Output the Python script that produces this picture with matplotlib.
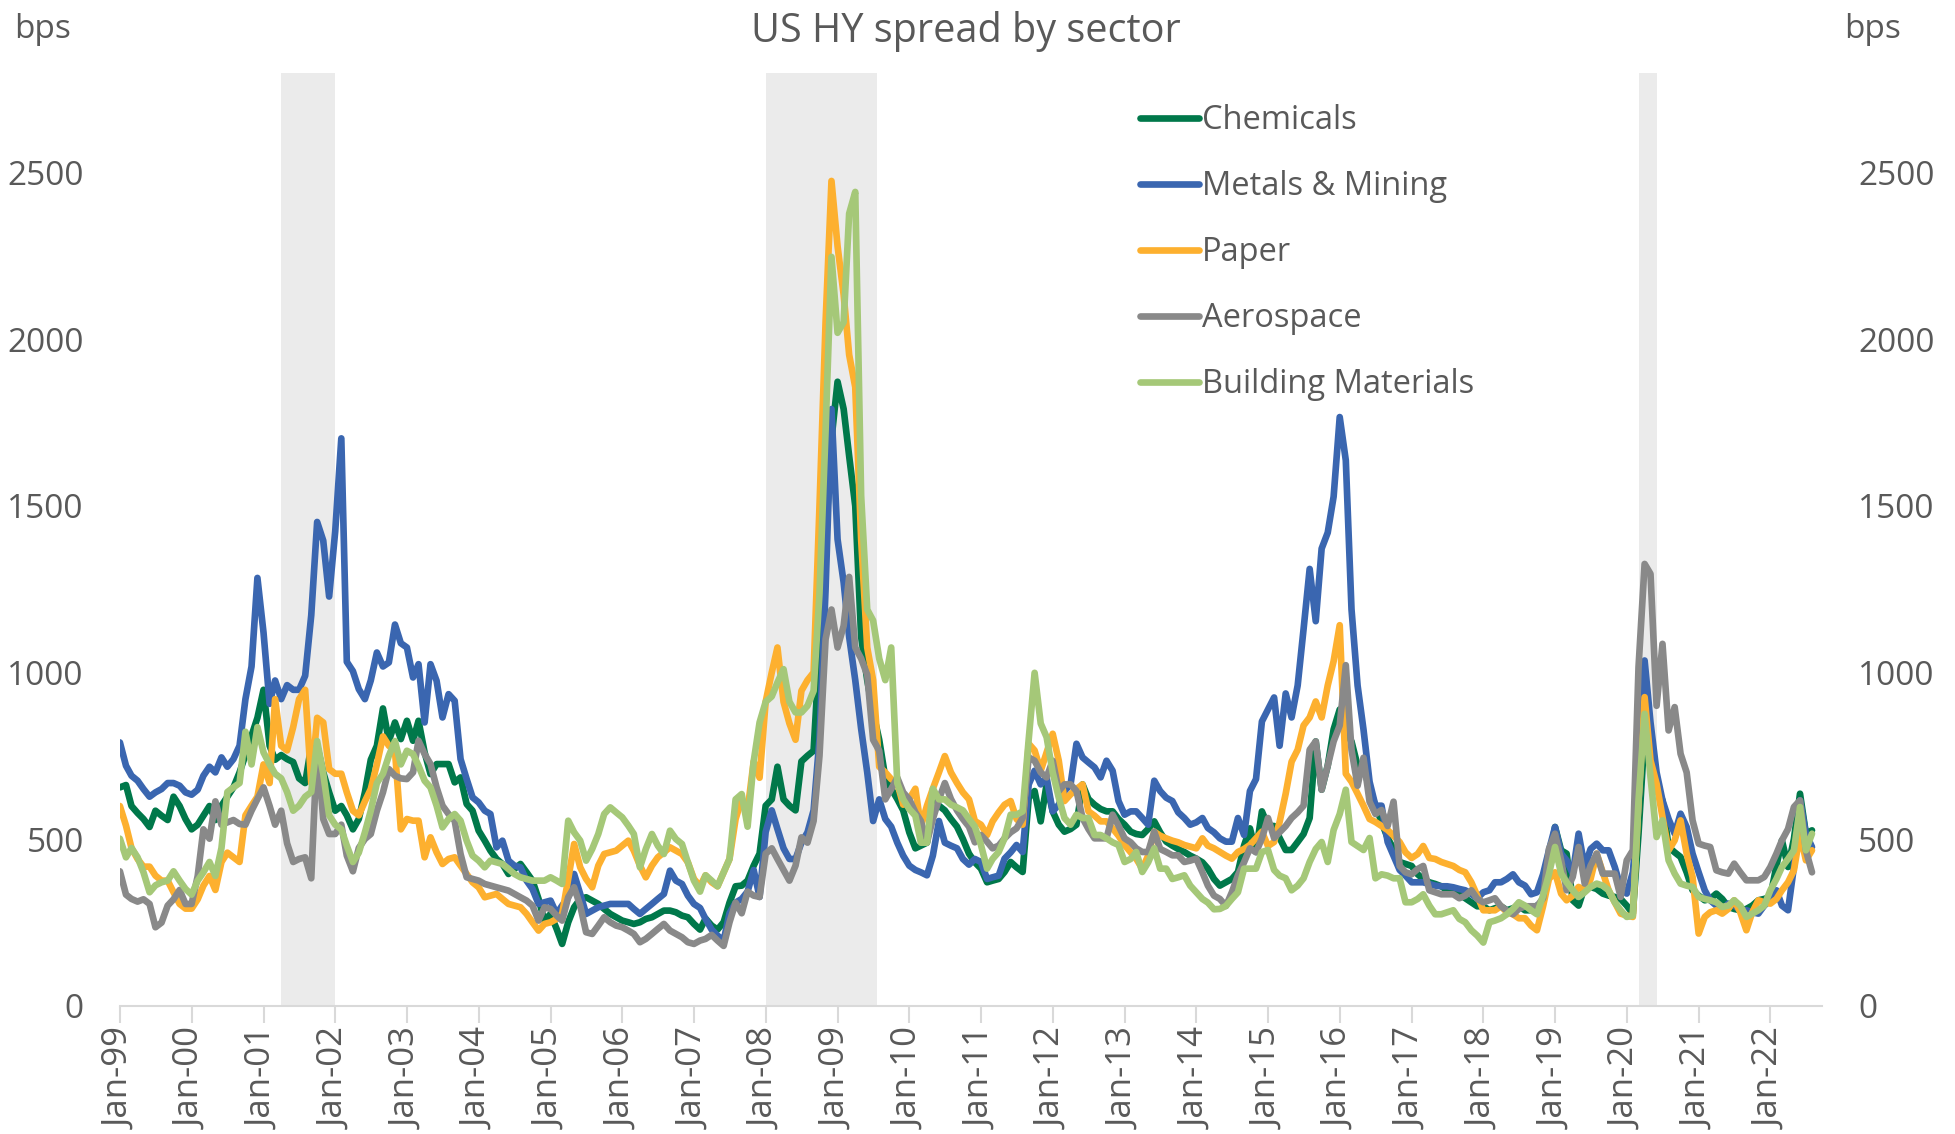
import matplotlib
matplotlib.use('Agg')
import matplotlib.pyplot as plt
import matplotlib.dates as mdates
import pandas as pd

plt.rcParams['font.family'] = ['Open Sans', 'DejaVu Sans']

# monthly values (bps), Jan 1999 .. Aug 2022
chemicals = [
    655, 662, 599, 578, 560, 536, 585, 570, 557, 627, 599, 560,     # 1999
    529, 543, 570, 599, 557, 600, 627, 655, 700, 752, 810, 864,     # 2000
    948, 780, 738, 752, 740, 731, 682, 668, 780, 780, 700, 640,     # 2001
    585, 599, 571, 529, 560, 640, 738, 780, 892, 794, 850, 800,     # 2002
    855, 795, 855, 760, 695, 725, 725, 725, 670, 685, 605, 585,     # 2003
    525, 495, 465, 440, 425, 395, 410, 425, 400, 375, 320, 255,     # 2004
    275, 230, 185, 250, 295, 320, 325, 315, 305, 290, 275, 265,     # 2005
    255, 250, 245, 250, 260, 265, 275, 285, 285, 280, 270, 265,     # 2006
    245, 228, 261, 240, 228, 250, 309, 358, 360, 375, 420, 456,     # 2007
    600, 619, 717, 619, 600, 586, 733, 750, 765, 1075, 1400, 1700,  # 2008
    1873, 1791, 1650, 1500, 1107, 977, 880, 798, 684, 651, 620, 586,  # 2009
    520, 472, 480, 489, 619, 600, 586, 560, 537, 500, 456, 430,     # 2010
    411, 370, 375, 380, 401, 431, 415, 401, 624, 644, 553, 664,     # 2011
    583, 543, 522, 530, 543, 664, 620, 603, 590, 583, 583, 560,     # 2012
    543, 522, 515, 512, 530, 553, 520, 492, 480, 470, 461, 450,     # 2013
    441, 430, 411, 380, 360, 370, 380, 401, 480, 532, 461, 583,     # 2014
    539, 539, 503, 467, 467, 491, 515, 563, 793, 648, 720, 829,     # 2015
    889, 817, 793, 720, 720, 648, 600, 551, 503, 470, 431, 425,     # 2016
    419, 394, 380, 370, 365, 358, 346, 340, 334, 322, 310, 298,     # 2017
    298, 286, 292, 298, 286, 292, 298, 286, 286, 300, 310, 431,     # 2018
    536, 466, 456, 316, 300, 356, 356, 350, 336, 330, 326, 320,     # 2019
    300, 276, 516, 816, 716, 650, 616, 476, 460, 446, 400, 346,     # 2020
    330, 316, 320, 336, 320, 296, 290, 286, 290, 300, 316, 320,     # 2021
    326, 420, 496, 416, 500, 636, 516, 526,                         # 2022
]
metals = [
    790, 720, 690, 675, 650, 627, 640, 650, 668, 668, 660, 640,
    633, 648, 690, 717, 700, 745, 717, 740, 780, 920, 1018, 1284,
    1120, 906, 976, 920, 962, 948, 948, 990, 1172, 1452, 1396, 1228,
    1424, 1703, 1032, 1004, 950, 920, 976, 1060, 1018, 1030, 1144, 1088,
    1075, 985, 1025, 850, 1025, 975, 865, 935, 915, 740, 680, 625,
    610, 585, 575, 475, 495, 435, 420, 415, 375, 350, 305, 310,
    315, 275, 300, 325, 395, 335, 275, 285, 295, 300, 305, 305,
    305, 305, 290, 275, 290, 305, 320, 335, 405, 375, 365, 330,
    305, 293, 260, 228, 210, 195, 277, 309, 320, 342, 407, 326,
    521, 586, 530, 472, 440, 440, 489, 520, 586, 800, 1250, 1791,
    1400, 1270, 1107, 977, 831, 700, 554, 619, 560, 537, 489, 450,
    420, 407, 400, 391, 450, 554, 489, 480, 472, 440, 423, 440,
    431, 380, 385, 390, 441, 460, 482, 461, 664, 705, 664, 685,
    583, 603, 644, 664, 786, 745, 730, 715, 685, 735, 705, 614,
    573, 583, 583, 563, 543, 675, 644, 624, 614, 580, 563, 543,
    550, 563, 533, 520, 502, 492, 492, 563, 512, 644, 680, 853,
    889, 925, 780, 937, 865, 961, 1130, 1311, 1154, 1372, 1420, 1528,
    1767, 1637, 1190, 961, 829, 672, 600, 600, 491, 450, 407, 390,
    370, 370, 370, 365, 360, 358, 358, 355, 350, 346, 335, 322,
    340, 346, 370, 370, 380, 394, 370, 360, 334, 340, 394, 466,
    536, 456, 436, 396, 516, 416, 470, 486, 466, 466, 416, 356,
    336, 400, 600, 1036, 850, 700, 616, 560, 516, 576, 536, 456,
    400, 346, 316, 300, 286, 306, 300, 286, 286, 280, 276, 300,
    316, 346, 300, 286, 416, 616, 516, 476,
]
paper = [
    599, 540, 473, 440, 417, 417, 390, 375, 375, 340, 305, 291,
    291, 319, 360, 389, 347, 431, 459, 445, 431, 571, 600, 627,
    724, 668, 920, 780, 766, 836, 920, 948, 668, 864, 850, 710,
    696, 696, 640, 585, 571, 613, 650, 724, 808, 780, 766, 529,
    560, 555, 555, 445, 505, 460, 425, 440, 445, 420, 395, 370,
    355, 325, 330, 335, 320, 305, 300, 295, 275, 250, 225, 245,
    250, 260, 275, 380, 485, 415, 380, 355, 420, 455, 460, 465,
    480, 495, 465, 420, 385, 420, 445, 460, 475, 465, 455, 430,
    380, 358, 391, 370, 358, 400, 440, 560, 619, 586, 733, 684,
    912, 1000, 1075, 912, 847, 798, 945, 977, 1000, 1500, 2052, 2476,
    2280, 2134, 1954, 1857, 1400, 1075, 977, 717, 700, 680, 668, 603,
    620, 651, 537, 600, 651, 700, 749, 700, 668, 640, 619, 554,
    543, 512, 553, 580, 603, 614, 560, 543, 786, 766, 705, 760,
    816, 735, 614, 634, 650, 664, 583, 570, 553, 553, 532, 510,
    482, 460, 441, 411, 450, 522, 510, 502, 495, 490, 482, 477,
    472, 502, 480, 472, 461, 450, 441, 461, 470, 482, 502, 522,
    479, 491, 551, 636, 732, 768, 841, 865, 913, 865, 961, 1034,
    1142, 696, 672, 636, 600, 560, 551, 539, 527, 510, 491, 460,
    443, 455, 479, 443, 440, 431, 425, 419, 407, 400, 370, 330,
    286, 286, 286, 298, 280, 274, 262, 262, 240, 226, 298, 380,
    400, 336, 316, 330, 356, 346, 380, 456, 400, 346, 310, 276,
    270, 266, 616, 926, 736, 666, 566, 466, 496, 556, 456, 386,
    216, 266, 280, 286, 276, 290, 316, 280, 226, 280, 316, 310,
    306, 320, 346, 370, 406, 516, 436, 466,
]
aerospace = [
    403, 333, 320, 312, 319, 305, 235, 249, 300, 319, 347, 305,
    305, 389, 529, 501, 613, 543, 550, 557, 545, 543, 585, 620,
    655, 599, 543, 585, 487, 431, 440, 445, 382, 780, 560, 515,
    515, 543, 450, 403, 473, 500, 515, 585, 640, 710, 690, 682,
    680, 700, 795, 755, 725, 655, 600, 575, 555, 455, 385, 380,
    375, 365, 360, 355, 350, 345, 335, 325, 315, 300, 255, 295,
    290, 270, 255, 325, 355, 300, 220, 215, 240, 265, 250, 240,
    235, 225, 215, 190, 200, 215, 230, 245, 225, 215, 205, 190,
    185, 195, 200, 212, 195, 179, 250, 309, 277, 342, 330, 326,
    456, 472, 440, 407, 375, 420, 505, 489, 554, 750, 1100, 1189,
    1075, 1140, 1287, 1075, 1042, 993, 798, 765, 619, 650, 684, 640,
    619, 580, 554, 489, 560, 619, 668, 620, 586, 560, 537, 490,
    512, 492, 472, 480, 502, 520, 532, 563, 745, 735, 700, 685,
    735, 644, 664, 664, 644, 563, 530, 502, 502, 502, 573, 540,
    502, 490, 472, 461, 461, 522, 470, 461, 451, 451, 431, 435,
    441, 400, 360, 330, 320, 299, 340, 391, 430, 472, 460, 502,
    563, 503, 520, 539, 563, 580, 600, 768, 793, 648, 720, 793,
    841, 1022, 768, 660, 744, 612, 575, 587, 539, 612, 419, 400,
    394, 410, 419, 346, 340, 334, 334, 334, 322, 330, 346, 320,
    310, 316, 322, 298, 285, 274, 290, 298, 298, 298, 322, 470,
    516, 436, 346, 386, 476, 366, 420, 456, 396, 396, 396, 326,
    436, 466, 1016, 1326, 1296, 900, 1086, 826, 896, 756, 700, 556,
    486, 480, 476, 406, 400, 396, 426, 400, 376, 376, 376, 386,
    416, 456, 496, 530, 596, 616, 466, 400,
]
building = [
    501, 445, 473, 445, 400, 340, 361, 370, 375, 403, 375, 350,
    333, 375, 400, 431, 389, 473, 641, 655, 668, 822, 724, 836,
    760, 724, 696, 682, 641, 585, 600, 627, 641, 794, 696, 571,
    543, 529, 480, 431, 459, 520, 585, 668, 696, 750, 794, 724,
    765, 755, 720, 675, 655, 600, 535, 560, 575, 555, 495, 450,
    435, 415, 435, 430, 425, 410, 395, 385, 380, 375, 375, 375,
    385, 375, 365, 555, 520, 495, 435, 470, 515, 575, 595, 580,
    565, 540, 515, 415, 470, 515, 480, 455, 525, 500, 485, 430,
    375, 342, 391, 375, 358, 400, 440, 619, 635, 537, 733, 850,
    912, 928, 970, 1010, 912, 880, 880, 900, 945, 1238, 1726, 2248,
    2020, 2052, 2378, 2443, 1531, 1189, 1156, 1042, 977, 1075, 668, 619,
    590, 570, 489, 489, 651, 619, 619, 603, 595, 586, 560, 537,
    482, 411, 440, 461, 502, 573, 573, 583, 800, 999, 847, 806,
    700, 624, 563, 543, 573, 563, 563, 512, 512, 502, 490, 482,
    431, 440, 461, 401, 430, 472, 411, 411, 380, 385, 391, 360,
    340, 320, 309, 289, 290, 299, 320, 340, 411, 411, 411, 461,
    467, 407, 390, 382, 346, 360, 382, 431, 470, 491, 431, 527,
    575, 648, 491, 479, 467, 503, 382, 394, 390, 382, 382, 310,
    310, 320, 334, 300, 274, 274, 280, 286, 260, 250, 226, 210,
    189, 250, 255, 262, 274, 290, 310, 300, 286, 274, 330, 394,
    476, 396, 370, 346, 326, 340, 356, 366, 360, 346, 310, 286,
    266, 270, 616, 876, 686, 506, 556, 436, 396, 366, 360, 356,
    326, 320, 316, 310, 296, 300, 316, 300, 266, 276, 286, 300,
    346, 380, 416, 440, 466, 596, 466, 516,
]

series_names = ['Chemicals', 'Metals & Mining', 'Paper', 'Aerospace', 'Building Materials']
series_colors = ['#00784a', '#3a66b0', '#fdb02f', '#898989', '#a5c878']

recession_start = ['2001-04-01', '2008-01-01', '2020-03-01']
recession_end = ['2002-01-01', '2009-07-20', '2020-06-01']

dates = pd.date_range('1999-01-01', periods=len(chemicals), freq='MS')

text_col = '#595959'
fig = plt.figure(figsize=(19.56, 11.34), dpi=100)
ax = fig.add_axes([0.0613, 0.1133, 0.8701, 0.8223])

for s, e in zip(recession_start, recession_end):
    ax.axvspan(pd.Timestamp(s), pd.Timestamp(e), color='#ebebeb', lw=0, zorder=0)

for vals, name, col in zip([chemicals, metals, paper, aerospace, building],
                           series_names, series_colors):
    ax.plot(dates, vals, color=col, lw=4.8, label=name,
            solid_capstyle='round', solid_joinstyle='round')

ax.set_xlim(pd.Timestamp('1999-01-01'), pd.Timestamp('2022-09-20'))
ax.set_ylim(0, 2800)
ax.set_yticks(range(0, 2501, 500))
ax.xaxis.set_major_locator(mdates.YearLocator(1, month=1, day=1))
ax.xaxis.set_major_formatter(mdates.DateFormatter('%b-%y'))

for sp in ['top', 'left', 'right']:
    ax.spines[sp].set_visible(False)
ax.spines['bottom'].set_color('#d9d9d9')
ax.spines['bottom'].set_linewidth(1.5)
ax.tick_params(axis='x', colors='#d9d9d9', length=12, width=1.5, labelcolor=text_col,
               labelsize=25, labelrotation=90, pad=4)
ax.tick_params(axis='y', length=0, labelcolor=text_col, labelsize=24, pad=26)

ax2 = ax.twinx()
ax2.set_ylim(ax.get_ylim())
ax2.set_yticks(range(0, 2501, 500))
for sp in ['top', 'left', 'right', 'bottom']:
    ax2.spines[sp].set_visible(False)
ax2.tick_params(axis='y', length=0, labelcolor=text_col, labelsize=24, pad=26)

fig.text(0.494, 0.972, 'US HY spread by sector', ha='center', va='center',
         fontsize=28.5, color=text_col)
fig.text(0.007, 0.974, 'bps', ha='left', va='center', fontsize=24, color=text_col)
fig.text(0.943, 0.974, 'bps', ha='left', va='center', fontsize=24, color=text_col)

leg = ax.legend(loc='upper left', bbox_to_anchor=(0.583, 0.908), bbox_transform=fig.transFigure,
                frameon=False, fontsize=23.5, handlelength=1.8, handletextpad=0.1,
                labelspacing=1.01, borderpad=0, borderaxespad=0)
for t in leg.get_texts():
    t.set_color(text_col)

fig.savefig('out.png', dpi=100)
